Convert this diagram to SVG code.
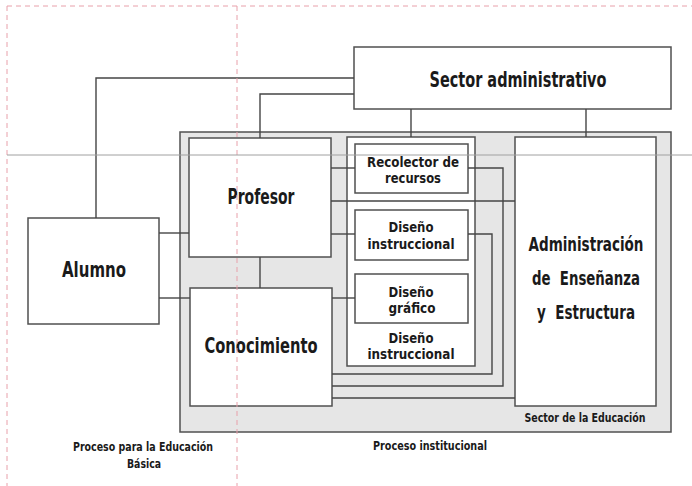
<svg xmlns="http://www.w3.org/2000/svg" width="692" height="486" viewBox="0 0 692 486">
<style>
.box{fill:#fff;stroke:#505050;stroke-width:1.5}
.outer{fill:#e6e6e6;stroke:#505050;stroke-width:1.5}
.ln{fill:none;stroke:#454545;stroke-width:1.4}
.guide{fill:none;stroke:#e8a0aa;stroke-width:1;stroke-dasharray:5 4}
.rule{fill:none;stroke:#a0a0a0;stroke-width:1}
text{font-family:"DejaVu Sans Condensed","Liberation Sans",sans-serif;font-weight:bold;fill:#1a1a1a;text-anchor:middle}
.big{font-size:21px}
.adm{font-size:19px}
.mid{font-size:14px}
.sm{font-size:12.5px}
</style>
<g id="sector-educacion">
<rect class="outer" x="180" y="132" width="491" height="300"/>
<text class="sm" x="585" y="422" textLength="121" lengthAdjust="spacingAndGlyphs">Sector de la Educación</text>
</g>
<g id="sector-administrativo">
<rect class="box" x="354" y="47" width="317" height="62"/>
<text class="big" x="518" y="87" textLength="177" lengthAdjust="spacingAndGlyphs">Sector administrativo</text>
</g>
<g id="alumno">
<rect class="box" x="28" y="218" width="131" height="106"/>
<text class="big" x="94" y="277" textLength="64" lengthAdjust="spacingAndGlyphs">Alumno</text>
</g>
<g id="profesor">
<rect class="box" x="189" y="138" width="142" height="119"/>
<text class="big" x="261" y="204" textLength="67" lengthAdjust="spacingAndGlyphs">Profesor</text>
</g>
<g id="conocimiento">
<rect class="box" x="190" y="288" width="142" height="118"/>
<text class="big" x="261" y="353" textLength="113" lengthAdjust="spacingAndGlyphs">Conocimiento</text>
</g>
<g id="columna">
<rect class="box" x="347" y="137" width="128" height="229"/>
<text class="mid" x="411" y="343" textLength="45" lengthAdjust="spacingAndGlyphs">Diseño</text>
<text class="mid" x="411" y="359" textLength="87" lengthAdjust="spacingAndGlyphs">instruccional</text>
</g>
<g id="recolector">
<rect class="box" x="355" y="144" width="113" height="49"/>
<text class="mid" x="413" y="167" textLength="92" lengthAdjust="spacingAndGlyphs">Recolector de</text>
<text class="mid" x="413" y="183" textLength="56" lengthAdjust="spacingAndGlyphs">recursos</text>
</g>
<g id="diseno-instruccional">
<rect class="box" x="355" y="210" width="113" height="50"/>
<text class="mid" x="411" y="232" textLength="45" lengthAdjust="spacingAndGlyphs">Diseño</text>
<text class="mid" x="411" y="249" textLength="87" lengthAdjust="spacingAndGlyphs">instruccional</text>
</g>
<g id="diseno-grafico">
<rect class="box" x="355" y="274" width="113" height="49"/>
<text class="mid" x="411" y="297" textLength="45" lengthAdjust="spacingAndGlyphs">Diseño</text>
<text class="mid" x="412" y="313" textLength="47" lengthAdjust="spacingAndGlyphs">gráfico</text>
</g>
<g id="administracion">
<rect class="box" x="515" y="137" width="141" height="269"/>
<text class="adm" x="586" y="251" textLength="115" lengthAdjust="spacingAndGlyphs">Administración</text>
<text class="adm" x="586" y="285" textLength="108" lengthAdjust="spacingAndGlyphs" xml:space="preserve">de  Enseñanza</text>
<text class="adm" x="586" y="319" textLength="98" lengthAdjust="spacingAndGlyphs" xml:space="preserve">y  Estructura</text>
</g>
<g id="connectors">
<path class="ln" d="M354 78H96V218"/>
<path class="ln" d="M354 94H260V138"/>
<path class="ln" d="M411 109V137"/>
<path class="ln" d="M586 109V137"/>
<path class="ln" d="M159 233H189"/>
<path class="ln" d="M159 298H190"/>
<path class="ln" d="M260 257V288"/>
<path class="ln" d="M331 168H355"/>
<path class="ln" d="M331 201H515"/>
<path class="ln" d="M331 234H355"/>
<path class="ln" d="M332 298H355"/>
<path class="ln" d="M468 234H492V374H332"/>
<path class="ln" d="M468 168H503V386H332"/>
<path class="ln" d="M515 398H332"/>
</g>
<g id="labels">
<text class="sm" x="430" y="450" textLength="114" lengthAdjust="spacingAndGlyphs">Proceso institucional</text>
<text class="sm" x="143" y="451" textLength="140" lengthAdjust="spacingAndGlyphs">Proceso para la Educación</text>
<text class="sm" x="144" y="468" textLength="34" lengthAdjust="spacingAndGlyphs">Básica</text>
</g>
<g id="guides">
<path class="guide" d="M7 6H692M7 6V486M237 6V486"/>
<path class="rule" d="M7 155H692"/>
</g>
</svg>
